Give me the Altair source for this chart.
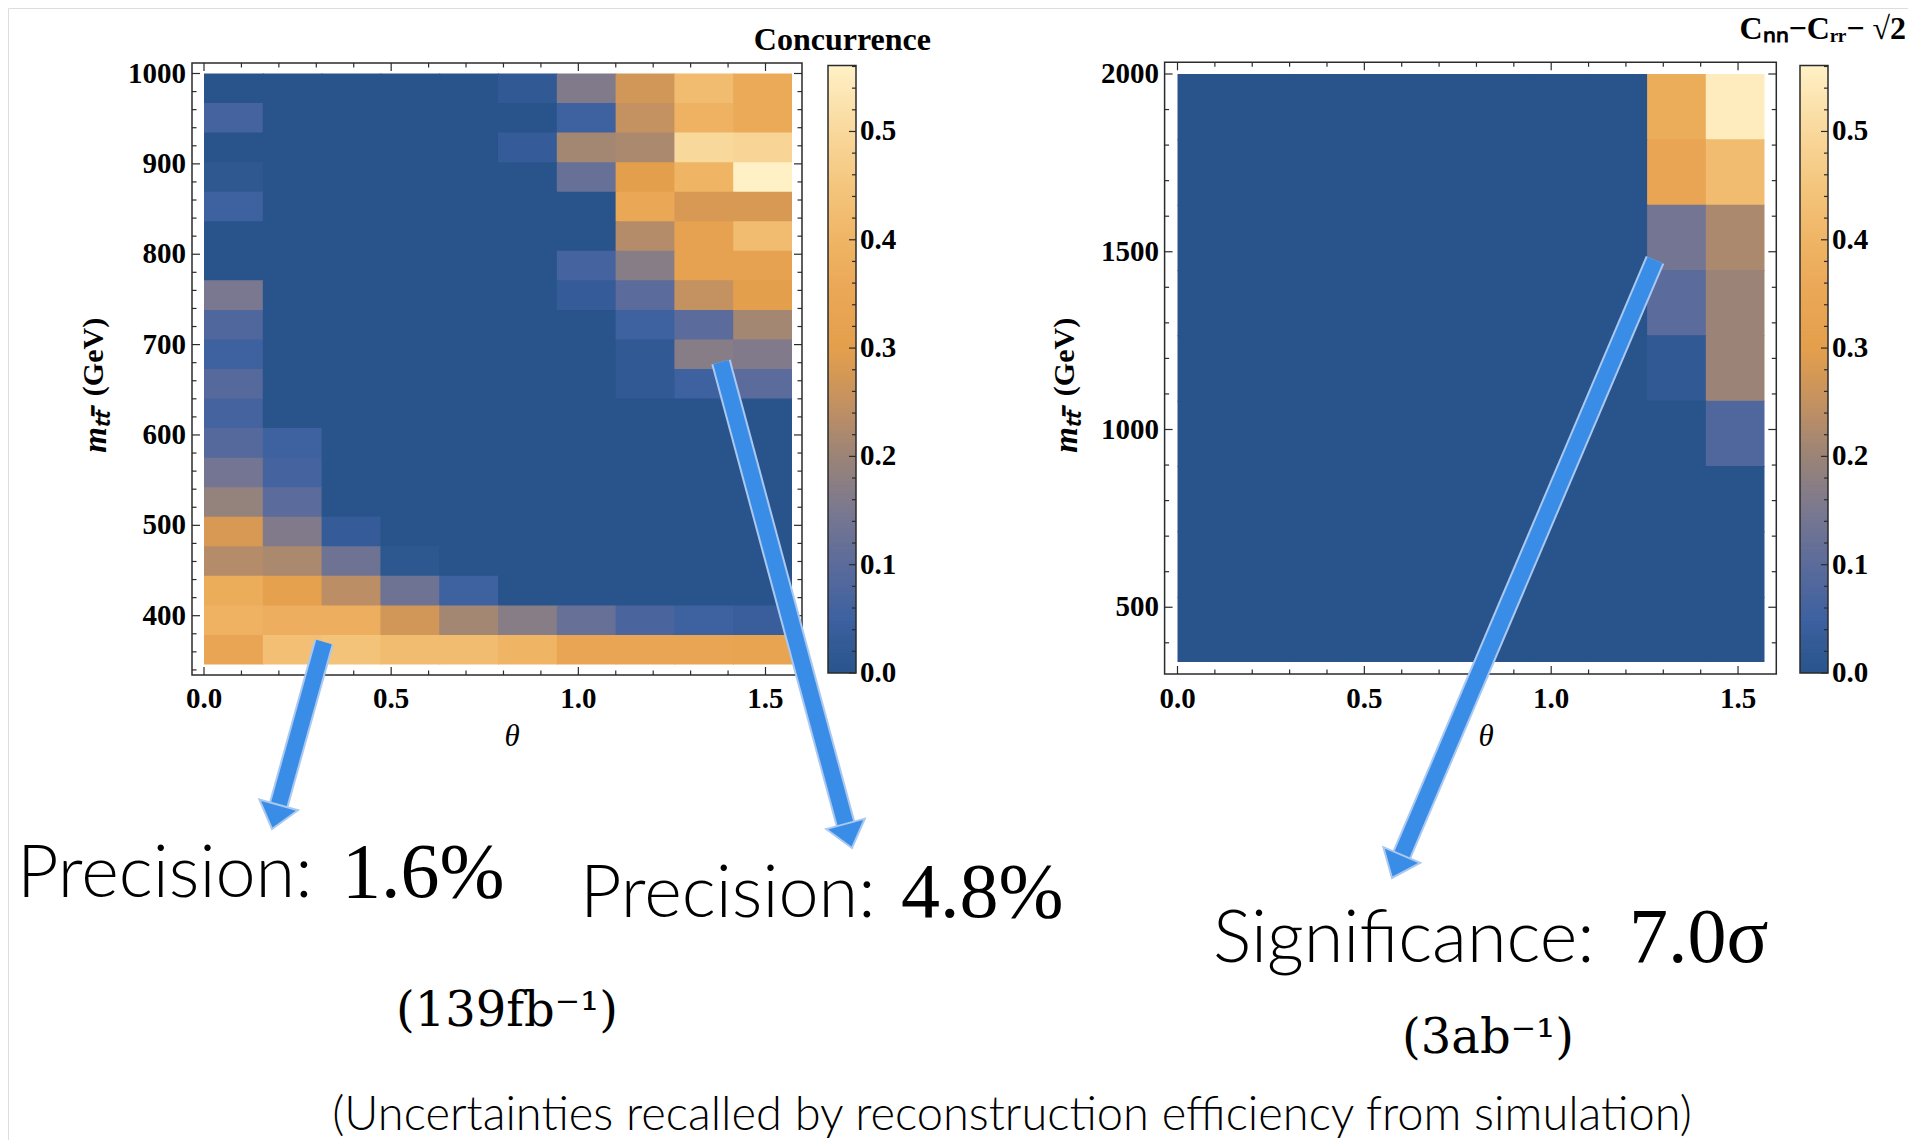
import math
import numpy as np
import pandas as pd
import altair as alt

# ---------------- values ----------------
theta_max = math.pi / 2          # theta runs 0 .. pi/2 in 10 bins
left_m_range = [346, 1000]       # 20 bins
right_m_range = [346, 2000]      # 9 bins

# rows from top (high m) to bottom (low m); columns theta 0 -> pi/2
left_rows = [
    [0.00, 0.00, 0.00, 0.00, 0.00, 0.02, 0.16, 0.27, 0.42, 0.36],
    [0.06, 0.00, 0.00, 0.00, 0.00, 0.00, 0.05, 0.25, 0.39, 0.36],
    [0.00, 0.00, 0.00, 0.00, 0.00, 0.03, 0.21, 0.22, 0.50, 0.49],
    [0.015, 0.00, 0.00, 0.00, 0.00, 0.00, 0.12, 0.30, 0.40, 0.56],
    [0.05, 0.00, 0.00, 0.00, 0.00, 0.00, 0.00, 0.35, 0.28, 0.28],
    [0.00, 0.00, 0.00, 0.00, 0.00, 0.00, 0.00, 0.23, 0.32, 0.42],
    [0.00, 0.00, 0.00, 0.00, 0.00, 0.00, 0.06, 0.17, 0.32, 0.32],
    [0.15, 0.00, 0.00, 0.00, 0.00, 0.00, 0.03, 0.10, 0.25, 0.30],
    [0.08, 0.00, 0.00, 0.00, 0.00, 0.00, 0.00, 0.05, 0.10, 0.21],
    [0.05, 0.00, 0.00, 0.00, 0.00, 0.00, 0.00, 0.02, 0.17, 0.16],
    [0.09, 0.00, 0.00, 0.00, 0.00, 0.00, 0.00, 0.02, 0.05, 0.10],
    [0.06, 0.00, 0.00, 0.00, 0.00, 0.00, 0.00, 0.00, 0.00, 0.00],
    [0.09, 0.05, 0.00, 0.00, 0.00, 0.00, 0.00, 0.00, 0.00, 0.00],
    [0.14, 0.06, 0.00, 0.00, 0.00, 0.00, 0.00, 0.00, 0.00, 0.00],
    [0.19, 0.10, 0.00, 0.00, 0.00, 0.00, 0.00, 0.00, 0.00, 0.00],
    [0.28, 0.16, 0.03, 0.00, 0.00, 0.00, 0.00, 0.00, 0.00, 0.00],
    [0.23, 0.22, 0.13, 0.01, 0.00, 0.00, 0.00, 0.00, 0.00, 0.00],
    [0.37, 0.31, 0.24, 0.13, 0.05, 0.00, 0.00, 0.00, 0.00, 0.00],
    [0.39, 0.38, 0.38, 0.27, 0.21, 0.17, 0.12, 0.07, 0.05, 0.04],
    [0.34, 0.43, 0.44, 0.42, 0.42, 0.40, 0.34, 0.34, 0.34, 0.33],
]

right_rows = [
    [0.00, 0.00, 0.00, 0.00, 0.00, 0.00, 0.00, 0.00, 0.37, 0.55],
    [0.00, 0.00, 0.00, 0.00, 0.00, 0.00, 0.00, 0.00, 0.34, 0.42],
    [0.00, 0.00, 0.00, 0.00, 0.00, 0.00, 0.00, 0.00, 0.14, 0.22],
    [0.00, 0.00, 0.00, 0.00, 0.00, 0.00, 0.00, 0.00, 0.10, 0.20],
    [0.00, 0.00, 0.00, 0.00, 0.00, 0.00, 0.00, 0.00, 0.02, 0.20],
    [0.00, 0.00, 0.00, 0.00, 0.00, 0.00, 0.00, 0.00, 0.00, 0.08],
    [0.00, 0.00, 0.00, 0.00, 0.00, 0.00, 0.00, 0.00, 0.00, 0.00],
    [0.00, 0.00, 0.00, 0.00, 0.00, 0.00, 0.00, 0.00, 0.00, 0.00],
    [0.00, 0.00, 0.00, 0.00, 0.00, 0.00, 0.00, 0.00, 0.00, 0.00],
]

x_tick_values = [0.0, 0.5, 1.0, 1.5]
x_tick_labels = ["0.0", "0.5", "1.0", "1.5"]
left_y_ticks = [400, 500, 600, 700, 800, 900, 1000]
left_y_labels = ["400", "500", "600", "700", "800", "900", "1000"]
right_y_ticks = [500, 1000, 1500, 2000]
right_y_labels = ["500", "1000", "1500", "2000"]
cbar_ticks = [0.0, 0.1, 0.2, 0.3, 0.4, 0.5]
cbar_labels = ["0.0", "0.1", "0.2", "0.3", "0.4", "0.5"]
cbar_max = 0.561

left_cbar_title = "Concurrence"
right_cbar_title = "Cₙₙ−Cᵣᵣ− √2"
x_title = "θ"
y_title_m = "mₜₜ̄"
y_title_unit = "(GeV)"

note_labels = ["Precision:", "Precision:", "Significance:"]
note_values = ["1.6%", "4.8%", "7.0σ"]
lumi_labels = ["(139fb⁻¹)", "(3ab⁻¹)"]
footnote = "(Uncertainties recalled by reconstruction efficiency from simulation)"

cmap_stops = [0.0, 0.05, 0.10, 0.15, 0.20, 0.25, 0.30, 0.35, 0.40, 0.45, 0.50, 0.561]
cmap_colors = ["#28548b", "#3e61a0", "#5b6b9b", "#7a7890", "#9b8477", "#c49160",
               "#e49f4c", "#eaa755", "#efb565", "#f4c67e", "#f9d89c", "#fff1c6"]

# ---------------- layout (page pixels) ----------------
OFF = 8
W, H = 1900, 1132
FC = "#2b2b2b"
SERIF = "Liberation Serif"
SANS = "Lato"

LEFT = dict(x0=204, x1=792, y_lo=664.5, y_hi=73.5, frame=(192, 802, 63, 675),
            cbar=(828, 856), ylab_x=186, ytitle_x=94, xtitle_x=512,
            cbar_title_x=931, cbar_title_y=50, cbar_title_size=32)
RIGHT = dict(x0=1177.5, x1=1764.5, y_lo=662, y_hi=74, frame=(1164.6, 1776.3, 62.3, 674),
             cbar=(1800, 1828), ylab_x=1159, ytitle_x=1065, xtitle_x=1486,
             cbar_title_x=1906, cbar_title_y=39, cbar_title_size=32)

cscale = alt.Scale(type="linear", domain=cmap_stops, range=cmap_colors,
                   interpolate="rgb", clamp=True)


def cells(rows, m_lo, m_hi, ov_t, ov_m):
    """Bin rectangles; each is grown by a sub-pixel overlap to hide anti-alias seams."""
    nrow, ncol = len(rows), len(rows[0])
    dm = (m_hi - m_lo) / nrow
    dt = theta_max / ncol
    recs = []
    for r, row in enumerate(rows):
        top = m_hi - r * dm
        for c, v in enumerate(row):
            recs.append(dict(t0=c * dt, t1=(c + 1) * dt + (ov_t if c < ncol - 1 else 0),
                             m0=top - dm - (ov_m if r < nrow - 1 else 0), m1=top, v=v))
    return pd.DataFrame(recs)


def minor(lo, hi, step, majors):
    vals = np.round(np.arange(lo, hi + step / 2, step), 6)
    return [float(v) for v in vals if not any(abs(v - m) < 1e-6 for m in majors)]


def panel(rows, m_range, cfg, y_ticks, y_labels, y_minor_step, y_minor_lo, y_minor_hi):
    xs = alt.Scale(domain=[0, theta_max], range=[cfg["x0"] - OFF, cfg["x1"] - OFF], nice=False, zero=False)
    ys = alt.Scale(domain=m_range, range=[cfg["y_lo"] - OFF, cfg["y_hi"] - OFF], nice=False, zero=False)
    fl, fr, ft, fb = [v - OFF for v in cfg["frame"]]
    # overlap of ~1 px expressed in data units
    ov_t = 1.0 * theta_max / (cfg["x1"] - cfg["x0"])
    ov_m = 1.0 * (m_range[1] - m_range[0]) / (cfg["y_lo"] - cfg["y_hi"])
    layers = []

    heat = alt.Chart(cells(rows, *m_range, ov_t, ov_m)).mark_rect(strokeWidth=0).encode(
        x=alt.X("t0:Q", scale=xs, axis=None), x2="t1:Q",
        y=alt.Y("m0:Q", scale=ys, axis=None), y2="m1:Q",
        color=alt.Color("v:Q", scale=cscale, legend=None),
    )
    layers.append(heat)

    one = pd.DataFrame({"k": [0]})
    frame = alt.Chart(one).mark_rect(fillOpacity=0, stroke=FC, strokeWidth=1.5).encode(
        x=alt.value(fl), x2=alt.value(fr), y=alt.value(ft), y2=alt.value(fb))
    layers.append(frame)

    x_minor = minor(0.0, 1.5, 0.1, x_tick_values)
    y_minor = minor(y_minor_lo, y_minor_hi, y_minor_step, y_ticks)
    for vals, size in ((x_tick_values, 8), (x_minor, 4.5)):
        d = pd.DataFrame({"v": vals})
        for a, b in ((fb, fb - size), (ft, ft + size)):
            layers.append(alt.Chart(d).mark_rule(color=FC, strokeWidth=1.2).encode(
                x=alt.X("v:Q", scale=xs, axis=None), y=alt.value(a), y2=alt.value(b)))
    for vals, size in ((y_ticks, 8), (y_minor, 4.5)):
        d = pd.DataFrame({"v": vals})
        for a, b in ((fl, fl + size), (fr, fr - size)):
            layers.append(alt.Chart(d).mark_rule(color=FC, strokeWidth=1.2).encode(
                y=alt.Y("v:Q", scale=ys, axis=None), x=alt.value(a), x2=alt.value(b)))

    xl = pd.DataFrame({"v": x_tick_values, "lab": x_tick_labels})
    layers.append(alt.Chart(xl).mark_text(font=SERIF, fontWeight="bold", fontSize=29,
                                          align="center", baseline="middle", color="black").encode(
        x=alt.X("v:Q", scale=xs, axis=None), y=alt.value(698.5 - OFF), text="lab:N"))
    yl = pd.DataFrame({"v": y_ticks, "lab": y_labels})
    layers.append(alt.Chart(yl).mark_text(font=SERIF, fontWeight="bold", fontSize=29,
                                          align="right", baseline="middle", color="black").encode(
        y=alt.Y("v:Q", scale=ys, axis=None), x=alt.value(cfg["ylab_x"] - OFF), text="lab:N"))

    # axis titles
    layers.append(alt.Chart(pd.DataFrame({"t": [x_title]})).mark_text(
        font=SERIF, fontStyle="italic", fontSize=31, align="center", baseline="middle", color="black").encode(
        x=alt.value(cfg["xtitle_x"] - OFF), y=alt.value(737 - OFF), text="t:N"))
    layers.append(alt.Chart(pd.DataFrame({"t": [y_title_unit]})).mark_text(
        font=SERIF, fontWeight="bold", fontSize=30, angle=270, align="center", baseline="middle", color="black").encode(
        x=alt.value(cfg["ytitle_x"] - OFF), y=alt.value(357 - OFF), text="t:N"))
    layers.append(alt.Chart(pd.DataFrame({"t": [y_title_m]})).mark_text(
        font=SERIF, fontWeight="bold", fontStyle="italic", fontSize=33, angle=270, align="center",
        baseline="middle", color="black").encode(
        x=alt.value(cfg["ytitle_x"] - OFF + 2), y=alt.value(432 - OFF), text="t:N"))
    return alt.layer(*layers)


def colorbar(cfg, title):
    cb = alt.Scale(domain=[0, cbar_max], range=[673 - OFF, 65.4 - OFF], nice=False, zero=False)
    c0, c1 = cfg["cbar"][0] - OFF, cfg["cbar"][1] - OFF
    steps = np.linspace(0, cbar_max, 188)
    ov = 1.0 * cbar_max / (673 - 65.4)
    g = pd.DataFrame({"a": steps[:-1], "b": np.minimum(steps[1:] + ov, cbar_max),
                      "mid": (steps[:-1] + steps[1:]) / 2})
    layers = [alt.Chart(g).mark_rect(strokeWidth=0).encode(
        x=alt.value(c0), x2=alt.value(c1),
        y=alt.Y("a:Q", scale=cb, axis=None), y2="b:Q",
        color=alt.Color("mid:Q", scale=cscale, legend=None))]
    layers.append(alt.Chart(pd.DataFrame({"lo": [0.0], "hi": [cbar_max]})).mark_rect(
        fillOpacity=0, stroke=FC, strokeWidth=1.5).encode(
        x=alt.value(c0), x2=alt.value(c1), y=alt.Y("lo:Q", scale=cb, axis=None), y2="hi:Q"))
    cminor = minor(0.0, 0.56, 0.02, cbar_ticks)
    for vals, size in ((cbar_ticks, 7), (cminor, 4)):
        layers.append(alt.Chart(pd.DataFrame({"v": vals})).mark_rule(color=FC, strokeWidth=1.2).encode(
            y=alt.Y("v:Q", scale=cb, axis=None), x=alt.value(c1), x2=alt.value(c1 - size)))
    layers.append(alt.Chart(pd.DataFrame({"v": cbar_ticks, "lab": cbar_labels})).mark_text(
        font=SERIF, fontWeight="bold", fontSize=29, align="left", baseline="middle", color="black").encode(
        y=alt.Y("v:Q", scale=cb, axis=None), x=alt.value(c1 + 4), text="lab:N"))
    layers.append(alt.Chart(pd.DataFrame({"t": [title]})).mark_text(
        font=SERIF, fontWeight="bold", fontSize=cfg["cbar_title_size"], align="right",
        baseline="alphabetic", color="black").encode(
        x=alt.value(cfg["cbar_title_x"] - OFF), y=alt.value(cfg["cbar_title_y"] - OFF), text="t:N"))
    return alt.layer(*layers)


# ---------------- annotations (page-pixel scales) ----------------
ax = alt.Scale(domain=[OFF, OFF + W], range=[0, W], nice=False, zero=False)
ay = alt.Scale(domain=[OFF, OFF + H], range=[0, H], nice=False, zero=False)

arrow_tail = [(324, 642), (721, 362), (1655, 260)]
arrow_tip = [(272, 829), (852, 848), (1392, 878)]
HEAD = "M -1 -0.25 L 0 1 L 1 -0.25 Z"
HEAD_R = 20
recs = []
for (tx, ty), (px_, py_) in zip(arrow_tail, arrow_tip):
    dx, dy = px_ - tx, py_ - ty
    L = math.hypot(dx, dy)
    ux, uy = dx / L, dy / L
    cx, cy = px_ - HEAD_R * ux, py_ - HEAD_R * uy
    ang = math.degrees(math.atan2(-dx, dy)) % 360
    recs.append(dict(x=tx, y=ty, x2=cx, y2=cy, hx=cx, hy=cy, ang=ang))
arrows = pd.DataFrame(recs)

BLUE = "#3a8de6"
LIGHT = "#aac8f0"
ann_layers = [
    alt.Chart(arrows).mark_rule(color=LIGHT, strokeWidth=20).encode(
        x=alt.X("x:Q", scale=ax, axis=None), y=alt.Y("y:Q", scale=ay, axis=None), x2="x2:Q", y2="y2:Q"),
    alt.Chart(arrows).mark_rule(color=BLUE, strokeWidth=16).encode(
        x=alt.X("x:Q", scale=ax, axis=None), y=alt.Y("y:Q", scale=ay, axis=None), x2="x2:Q", y2="y2:Q"),
    alt.Chart(arrows).mark_point(shape=HEAD, filled=True, color=BLUE, stroke=LIGHT, strokeWidth=2,
                                 size=(2 * HEAD_R) ** 2, opacity=1).encode(
        x=alt.X("hx:Q", scale=ax, axis=None), y=alt.Y("hy:Q", scale=ay, axis=None),
        angle=alt.Angle("ang:Q", scale=None)),
]

notes = pd.DataFrame({"t": note_labels, "x": [17, 580, 1213], "y": [897, 917, 962]})
vals = pd.DataFrame({"t": note_values, "x": [342, 901, 1629], "y": [897, 917, 962]})
lumi = pd.DataFrame({"t": lumi_labels, "x": [507, 1488], "y": [1026, 1053]})
foot = pd.DataFrame({"t": [footnote], "x": [1012], "y": [1130]})

ann_layers += [
    alt.Chart(notes).mark_text(font=SANS, fontWeight=300, fontSize=72, align="left",
                               baseline="alphabetic", color="black").encode(
        x=alt.X("x:Q", scale=ax, axis=None), y=alt.Y("y:Q", scale=ay, axis=None), text="t:N"),
    alt.Chart(vals).mark_text(font=SERIF, fontSize=78, align="left", baseline="alphabetic", color="black").encode(
        x=alt.X("x:Q", scale=ax, axis=None), y=alt.Y("y:Q", scale=ay, axis=None), text="t:N"),
    alt.Chart(lumi).mark_text(font="DejaVu Serif", fontSize=48, align="center", baseline="alphabetic", color="black").encode(
        x=alt.X("x:Q", scale=ax, axis=None), y=alt.Y("y:Q", scale=ay, axis=None), text="t:N"),
    alt.Chart(foot).mark_text(font=SANS, fontWeight=300, fontSize=47, align="center",
                              baseline="alphabetic", color="black").encode(
        x=alt.X("x:Q", scale=ax, axis=None), y=alt.Y("y:Q", scale=ay, axis=None), text="t:N"),
]
annotations = alt.layer(*ann_layers)

left_panel = panel(left_rows, left_m_range, LEFT, left_y_ticks, left_y_labels, 20, 340, 1000)
right_panel = panel(right_rows, right_m_range, RIGHT, right_y_ticks, right_y_labels, 100, 400, 2000)

chart = alt.layer(
    left_panel, colorbar(LEFT, left_cbar_title),
    right_panel, colorbar(RIGHT, right_cbar_title),
    annotations,
).resolve_scale(x="independent", y="independent").properties(
    width=W, height=H, autosize=alt.AutoSizeParams(type="none"), padding=0,
).configure_view(stroke=None).configure(background="white")

chart.save("out.html", embed_options={"renderer": "svg", "actions": False})
